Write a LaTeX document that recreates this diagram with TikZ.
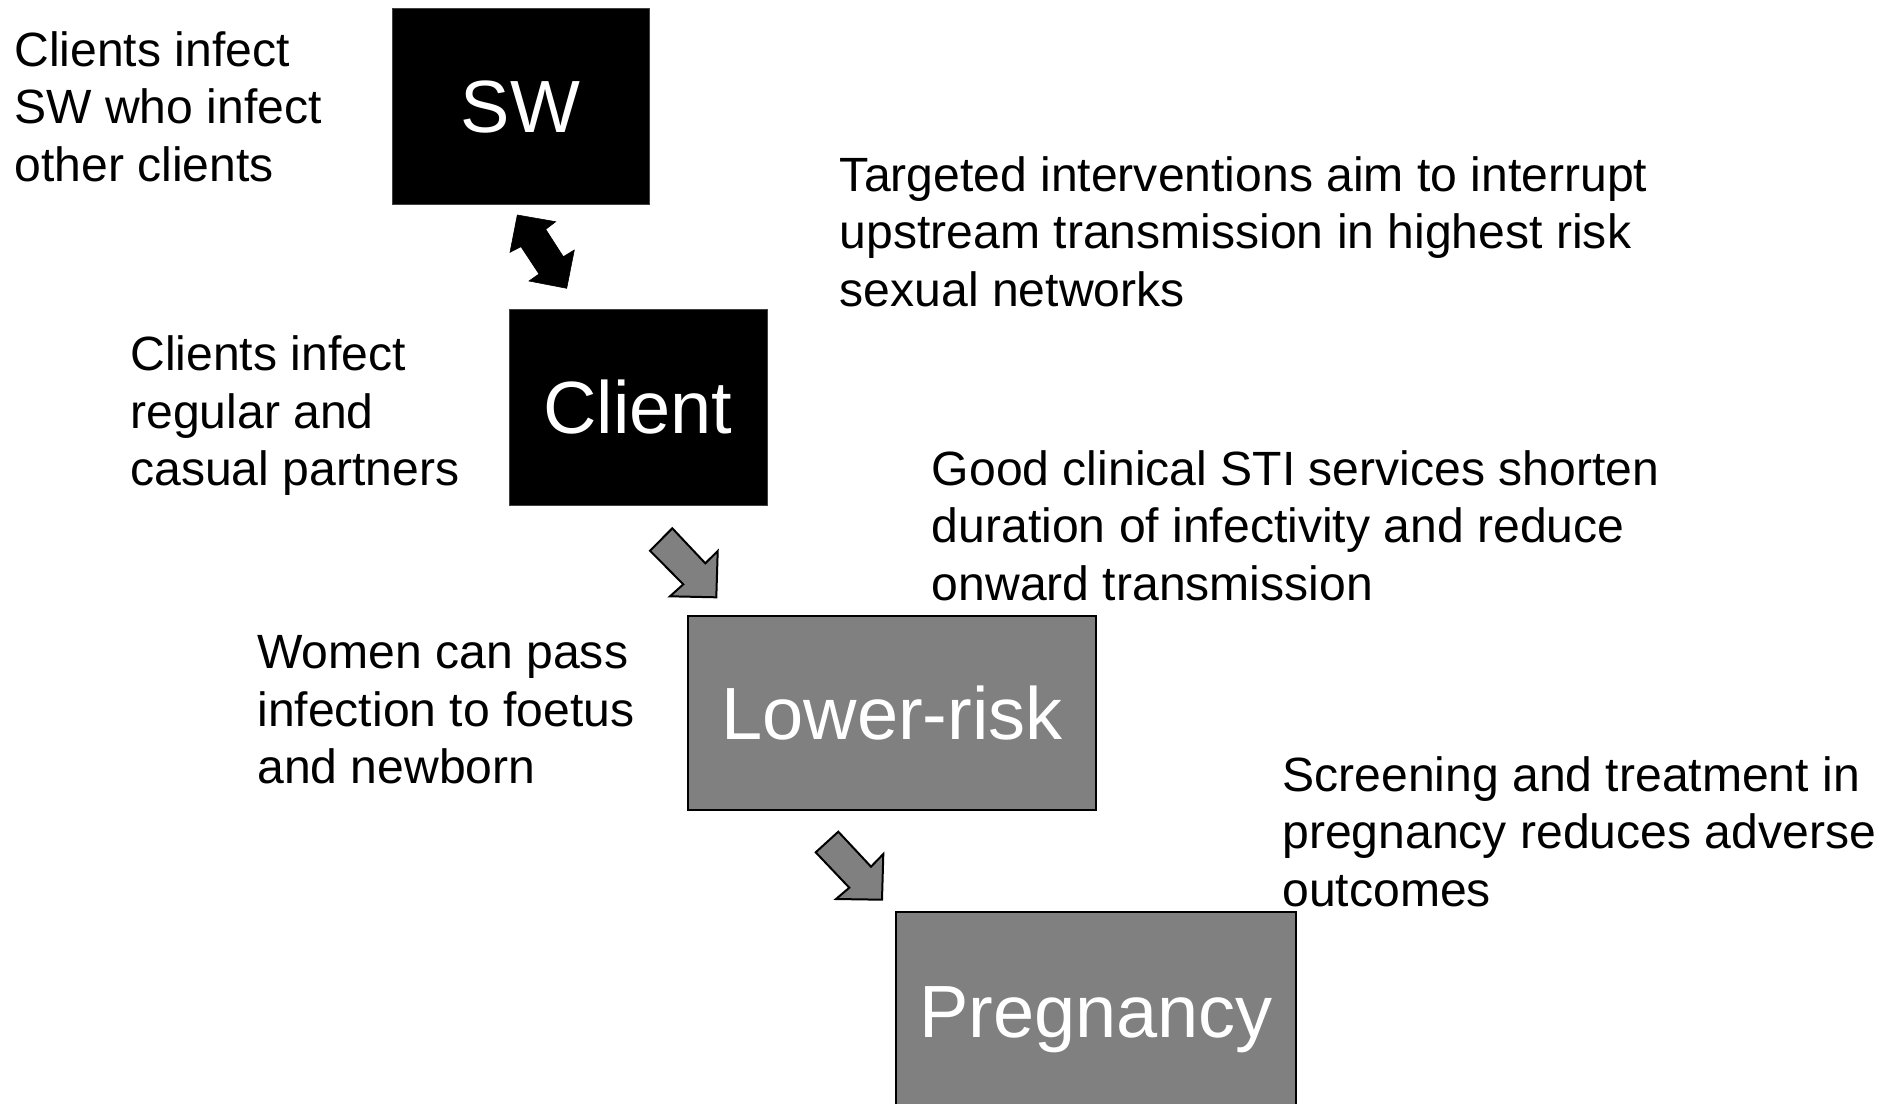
\documentclass[tikz,border=0pt]{standalone}
\usepackage{fontspec}
\setmainfont{Liberation Sans}
\begin{document}
\begin{tikzpicture}[x=0.5pt,y=-0.5pt,
  note/.style={anchor=north west,inner sep=0pt,align=left,text=black,
    font=\fontsize{24.05pt}{28.8pt}\selectfont},
  boxtext/.style={inner sep=0pt,text=white,text height=26.6pt,text depth=0pt,
    font=\fontsize{37pt}{44pt}\selectfont},
  darkbox/.style={boxtext,fill=black,draw=black!75,line width=0.5pt},
  greybox/.style={boxtext,fill=black!50,draw=black,line width=1pt},
  blockarrowdark/.style={fill=black,draw=black,line width=0.3pt,line join=miter},
  blockarrowgrey/.style={fill=black!50,draw=black,line width=1pt,line join=miter}]
\useasboundingbox (0,0) rectangle (1893,1103);

% boxes
\node[darkbox,minimum width=128.5pt,minimum height=98pt] (sw) at (520.5,106) {SW};
\node[darkbox,minimum width=129pt,minimum height=98pt] (client) at (638,407) {Client};
\node[greybox,minimum width=204pt,minimum height=97pt] (lower) at (892,713) {Lower-risk};
\node[greybox,minimum width=200pt,minimum height=99pt] (preg) at (1096,1011) {Pregnancy};

% texts
\node[note] (t1) at (14,31) {Clients infect\\SW who infect\\other clients};
\node[note] (t2) at (130,335.5) {Clients infect\\regular and\\casual partners};
\node[note] (t3) at (257,635) {Women can pass\\infection to foetus\\and newborn};
\node[note] (t4) at (839.5,156) {Targeted interventions aim to interrupt\\upstream transmission in highest risk\\sexual networks};
\node[note] (t5) at (931.5,450) {Good clinical STI services shorten\\duration of infectivity and reduce\\onward transmission};
\node[note] (t6) at (1282,756) {Screening and treatment in\\pregnancy reduces adverse\\outcomes};

% block arrows
\draw[blockarrowdark] (517.3,215) -- (555.7,221.7) -- (545.7,229.3) -- (563.3,256.7)
  -- (574.3,250) -- (566.7,288.3) -- (529,281) -- (539,274) -- (521,246.7)
  -- (510,252.3) -- cycle;
\draw[blockarrowgrey] (672.3,528.3) -- (705.3,563.3) -- (717.7,551) -- (716.3,597.3)
  -- (670,596.3) -- (683.3,584.3) -- (650,550.7) -- cycle;
\draw[blockarrowgrey] (838.3,831.7) -- (871,866.7) -- (883.3,854) -- (882,899.7)
  -- (836,899) -- (849.3,887.7) -- (815.7,852.3) -- cycle;
\end{tikzpicture}
\end{document}
